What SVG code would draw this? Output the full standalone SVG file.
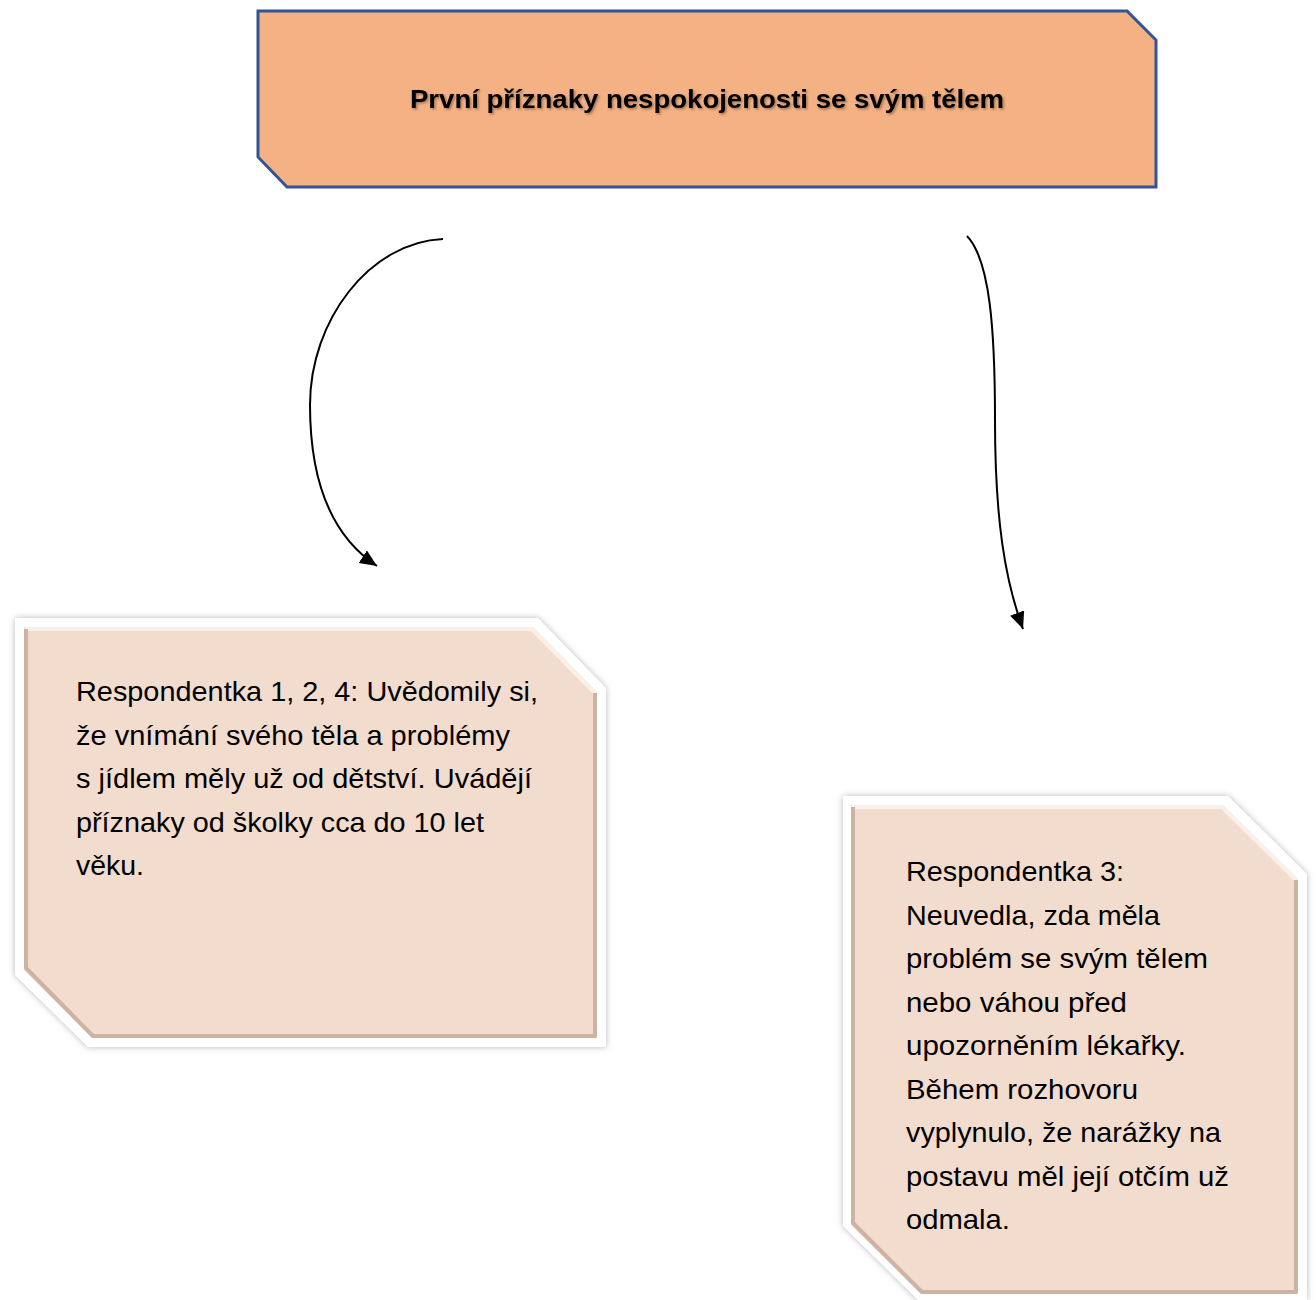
<svg xmlns="http://www.w3.org/2000/svg" width="1316" height="1300" viewBox="0 0 1316 1300">
<defs>
<style>
.title{font-family:"Liberation Sans",Arial,sans-serif;font-weight:bold;font-size:26px;fill:#000}
.body{font-family:"Liberation Sans",Arial,sans-serif;font-size:28px;fill:#000}
.outer{fill:#ffffff}
.inner{fill:#F1DCCE}
.dark{fill:none;stroke:#CDB3A3;stroke-width:4;stroke-linejoin:round}
.light{fill:none;stroke:#FAF0EA;stroke-width:4;stroke-linejoin:round}
.conn{fill:none;stroke:#000;stroke-width:2}
</style>
<filter id="glow" x="-10%" y="-10%" width="120%" height="120%">
<feDropShadow dx="0" dy="0" stdDeviation="3" flood-color="#888" flood-opacity="0.6"/>
</filter>
<filter id="tshadow" x="-5%" y="-30%" width="110%" height="160%">
<feDropShadow dx="1.5" dy="1.5" stdDeviation="1" flood-color="#000" flood-opacity="0.35"/>
</filter>
<marker id="arrow" markerUnits="userSpaceOnUse" markerWidth="18" markerHeight="16" refX="17" refY="7.5" orient="auto">
<path d="M0,0 L17,7.5 L0,15 z" fill="#000"/>
</marker>
</defs>
<rect width="1316" height="1300" fill="#fff"/>

<g id="title-node">
<polygon points="258,11 1127,11 1156,40 1156,187 287,187 258,157" fill="#F4B183" stroke="#2F5597" stroke-width="3"/>
<text class="title" x="707" y="108" text-anchor="middle" textLength="594" lengthAdjust="spacingAndGlyphs" filter="url(#tshadow)">První příznaky nespokojenosti se svým tělem</text>
</g>

<g id="connectors">
<path class="conn" d="M443,239 C370,242 310,320 310,405 C310,480 330,535 377,566" marker-end="url(#arrow)"/>
<path class="conn" d="M967,236 C990,260 995,330 995,420 C995,520 1005,580 1023,629" marker-end="url(#arrow)"/>
</g>

<g id="node-left">
<polygon class="outer" filter="url(#glow)" points="15,618 538,618 606,688 606,1047 88,1047 15,975"/>
<polygon class="inner" points="24,627 533,627 597,692 597,1038 92,1038 24,970"/>
<polyline class="light" points="26,968 26,629 532,629 595,693 595,1036"/>
<polyline class="dark" points="26,629 26,968 93,1036 595,1036 595,693"/>
<text class="body" x="76" y="701" textLength="462" lengthAdjust="spacingAndGlyphs">Respondentka 1, 2, 4: Uvědomily si,</text>
<text class="body" x="76" y="745" textLength="434" lengthAdjust="spacingAndGlyphs">že vnímání svého těla a problémy</text>
<text class="body" x="76" y="788" textLength="456" lengthAdjust="spacingAndGlyphs">s jídlem měly už od dětství. Uvádějí</text>
<text class="body" x="76" y="832" textLength="408" lengthAdjust="spacingAndGlyphs">příznaky od školky cca do 10 let</text>
<text class="body" x="76" y="875" textLength="68" lengthAdjust="spacingAndGlyphs">věku.</text>
</g>

<g id="node-right">
<polygon class="outer" filter="url(#glow)" points="843,796 1228,796 1307,874 1307,1300 918,1300 843,1226"/>
<polygon class="inner" points="851,805 1223,805 1298,879 1298,1294 921,1294 851,1225"/>
<polyline class="light" points="853,1223 853,807 1222,807 1296,880 1296,1292"/>
<polyline class="dark" points="853,807 853,1223 922,1292 1296,1292 1296,880"/>
<text class="body" x="906" y="881" textLength="218" lengthAdjust="spacingAndGlyphs">Respondentka 3:</text>
<text class="body" x="906" y="925" textLength="254" lengthAdjust="spacingAndGlyphs">Neuvedla, zda měla</text>
<text class="body" x="906" y="968" textLength="302" lengthAdjust="spacingAndGlyphs">problém se svým tělem</text>
<text class="body" x="906" y="1012" textLength="221" lengthAdjust="spacingAndGlyphs">nebo váhou před</text>
<text class="body" x="906" y="1055" textLength="280" lengthAdjust="spacingAndGlyphs">upozorněním lékařky.</text>
<text class="body" x="906" y="1099" textLength="232" lengthAdjust="spacingAndGlyphs">Během rozhovoru</text>
<text class="body" x="906" y="1142" textLength="315" lengthAdjust="spacingAndGlyphs">vyplynulo, že narážky na</text>
<text class="body" x="906" y="1186" textLength="323" lengthAdjust="spacingAndGlyphs">postavu měl její otčím už</text>
<text class="body" x="906" y="1229" textLength="104" lengthAdjust="spacingAndGlyphs">odmala.</text>
</g>
</svg>
